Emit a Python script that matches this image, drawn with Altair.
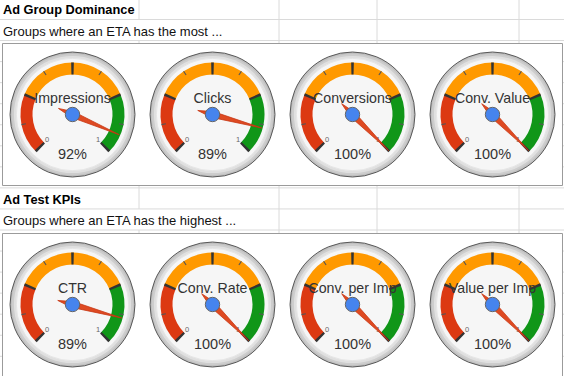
import math
import altair as alt
import pandas as pd

# ---------------- data ----------------
section_titles = ["Ad Group Dominance", "Ad Test KPIs"]
section_subtitles = ["Groups where an ETA has the most ...",
                     "Groups where an ETA has the highest ..."]
gauge_labels = ["Impressions", "Clicks", "Conversions", "Conv. Value",
                "CTR", "Conv. Rate", "Conv. per Imp", "Value per Imp"]
gauge_values = [0.92, 0.89, 1.00, 1.00, 0.89, 1.00, 1.00, 1.00]
gauge_section = [0, 0, 0, 0, 1, 1, 1, 1]
band_names = ["red", "yellow", "green"]
band_from = [0.0, 0.25, 0.75]
band_to = [0.25, 0.75, 1.0]
major_ticks = [0.0, 0.25, 0.5, 0.75, 1.0]
minor_ticks = [0.125, 0.375, 0.625, 0.875]
end_labels = [0, 1]

# ---------------- layout / style ----------------
W, H = 564, 376
GX0, GDX = 72.5, 140.0
GY0, SEC_DY = 114.5, 190.0
ROW_Y0, ROW_H, N_ROWS = 19.5, 21.05, 17
COL_X = [139, 279, 377, 519]
FONT = "Liberation Sans"
BAND_COLORS = ["#dc3912", "#ff9900", "#109618"]

xs = alt.Scale(domain=[0, W], range=[0, W], nice=False, zero=False)
ys = alt.Scale(domain=[0, H], range=[0, H], nice=False, zero=False)
ts = alt.Scale(domain=[0, 1], range=[1.25 * math.pi, 2.75 * math.pi], nice=False, zero=False)


def X(f):
    return alt.X(f"{f}:Q", scale=xs, axis=None)


def Y(f):
    return alt.Y(f"{f}:Q", scale=ys, axis=None)


# gauges table
g_rows = []
for i, (lab, val, sec) in enumerate(zip(gauge_labels, gauge_values, gauge_section)):
    col = i - gauge_section.index(sec)
    g_rows.append(dict(gid=i, label=lab, value=val,
                       cx=GX0 + GDX * col, cy=GY0 + SEC_DY * sec))
gauges = pd.DataFrame(g_rows)

bands = pd.DataFrame(dict(band=band_names, b0=band_from, b1=band_to))
gb = gauges.merge(bands, how="cross")
majors = gauges.merge(pd.DataFrame(dict(v=major_ticks)), how="cross")
minors = gauges.merge(pd.DataFrame(dict(v=minor_ticks)), how="cross")
ends = gauges.merge(pd.DataFrame(dict(v=end_labels)), how="cross")

# spreadsheet grid
hl = pd.DataFrame(dict(y=[ROW_Y0 + ROW_H * k for k in range(N_ROWS)], x1=0, x2=W))
v_seg = []
hidden = [(ROW_Y0, ROW_Y0 + ROW_H), (ROW_Y0 + 9 * ROW_H, ROW_Y0 + 10 * ROW_H)]
for x in COL_X:
    if x == COL_X[0]:
        v_seg += [dict(x=x, y1=0, y2=hidden[0][0]),
                  dict(x=x, y1=hidden[0][1], y2=hidden[1][0]),
                  dict(x=x, y1=hidden[1][1], y2=H)]
    else:
        v_seg.append(dict(x=x, y1=0, y2=H))
vl = pd.DataFrame(v_seg)

boxes = pd.DataFrame(dict(x1=[2.5, 2.5], x2=[562.5, 562.5], y1=[43.5, 233.5], y2=[185.5, 380]))
heads = pd.DataFrame(dict(t=section_titles, x=[3, 3], y=[14.2, 204.0]))
subs = pd.DataFrame(dict(t=section_subtitles, x=[3, 3], y=[35.6, 225.2]))

layers = []

# grid lines
layers.append(alt.Chart(hl).mark_rule(color="#dadada", strokeWidth=1).encode(
    x=X("x1"), x2="x2", y=Y("y")))
layers.append(alt.Chart(vl).mark_rule(color="#dadada", strokeWidth=1).encode(
    x=X("x"), y=Y("y1"), y2="y2"))
# chart boxes
layers.append(alt.Chart(boxes).mark_rect(fill="white", stroke="#9b9b9b", strokeWidth=1).encode(
    x=X("x1"), x2="x2", y=Y("y1"), y2="y2"))
# headers
layers.append(alt.Chart(heads).mark_text(align="left", baseline="alphabetic", font=FONT,
                                         fontSize=12.8, fontWeight="bold", color="#000000").encode(
    x=X("x"), y=Y("y"), text="t:N"))
layers.append(alt.Chart(subs).mark_text(align="left", baseline="alphabetic", font=FONT,
                                        fontSize=13, color="#111111").encode(
    x=X("x"), y=Y("y"), text="t:N"))

# bezel rings
for r, fill, stroke, sw in [(62.5, "#c0c0c0", "#4a4a4a", 0.9),
                            (60.6, "#cdcdcd", None, 0),
                            (58.6, "#e0e0e0", None, 0),
                            (56.2, "#f6f6f6", "#e6e6e6", 1.0)]:
    kw = dict(fill=fill)
    if stroke:
        kw.update(stroke=stroke, strokeWidth=sw)
    layers.append(alt.Chart(gauges).mark_arc(**kw).encode(
        x=X("cx"), y=Y("cy"), theta=alt.value(0), theta2=alt.value(2 * math.pi),
        radius=alt.value(r)))

# colour bands
layers.append(alt.Chart(gb).mark_arc().encode(
    x=X("cx"), y=Y("cy"),
    theta=alt.Theta("b0:Q", scale=ts), theta2="b1:Q",
    radius=alt.value(52), radius2=alt.value(40),
    color=alt.Color("band:N", scale=alt.Scale(domain=band_names, range=BAND_COLORS), legend=None)))

# major ticks
layers.append(alt.Chart(majors).transform_calculate(
    t0="datum.v - 0.0055", t1="datum.v + 0.0055").mark_arc(fill="#333333").encode(
    x=X("cx"), y=Y("cy"),
    theta=alt.Theta("t0:Q", scale=ts), theta2="t1:Q",
    radius=alt.value(52), radius2=alt.value(40)))
# minor ticks
layers.append(alt.Chart(minors).transform_calculate(
    t0="datum.v - 0.0025", t1="datum.v + 0.0025").mark_arc(fill="#555555").encode(
    x=X("cx"), y=Y("cy"),
    theta=alt.Theta("t0:Q", scale=ts), theta2="t1:Q",
    radius=alt.value(52), radius2=alt.value(47.5)))

# min / max labels
layers.append(alt.Chart(ends).transform_calculate(
    a="(225 + 270 * datum.v) * PI / 180",
    lx="datum.cx + 36 * sin(datum.a)",
    ly="datum.cy - 36 * cos(datum.a)").mark_text(
    font=FONT, fontSize=7.5, color="#666666", align="center", baseline="middle").encode(
    x=X("lx"), y=Y("ly"), text="v:N"))

# gauge labels
layers.append(alt.Chart(gauges).transform_calculate(
    ty="datum.cy - 11.8").mark_text(
    font=FONT, fontSize=14.2, color="#333333", align="center", baseline="alphabetic").encode(
    x=X("cx"), y=Y("ty"), text="label:N"))
# value labels
layers.append(alt.Chart(gauges).transform_calculate(
    ty="datum.cy + 44.5").mark_text(
    font=FONT, fontSize=14.5, color="#333333", align="center", baseline="alphabetic").encode(
    x=X("cx"), y=Y("ty"), text=alt.Text("value:Q", format=".0%")))

# needle
NEEDLE = "M 0 -1 L 0.06 0 L 0 0.3 L -0.06 0 Z"
layers.append(alt.Chart(gauges).mark_point(
    shape=NEEDLE, size=(2 * 51) ** 2, filled=True, opacity=1,
    color="#de4a22", stroke="#c63310", strokeWidth=0.7).encode(
    x=X("cx"), y=Y("cy"),
    angle=alt.Angle("value:Q", scale=alt.Scale(domain=[0, 1], range=[225, 495]))))

# hub
layers.append(alt.Chart(gauges).mark_arc(fill="#4684ee", stroke="#666666", strokeWidth=1).encode(
    x=X("cx"), y=Y("cy"), theta=alt.value(0), theta2=alt.value(2 * math.pi),
    radius=alt.value(7.2)))

chart = alt.layer(*layers).properties(
    width=W, height=H, padding=0, autosize="none", background="white"
).configure_view(stroke=None)

chart.save("out.html", embed_options={"renderer": "svg", "actions": False})
